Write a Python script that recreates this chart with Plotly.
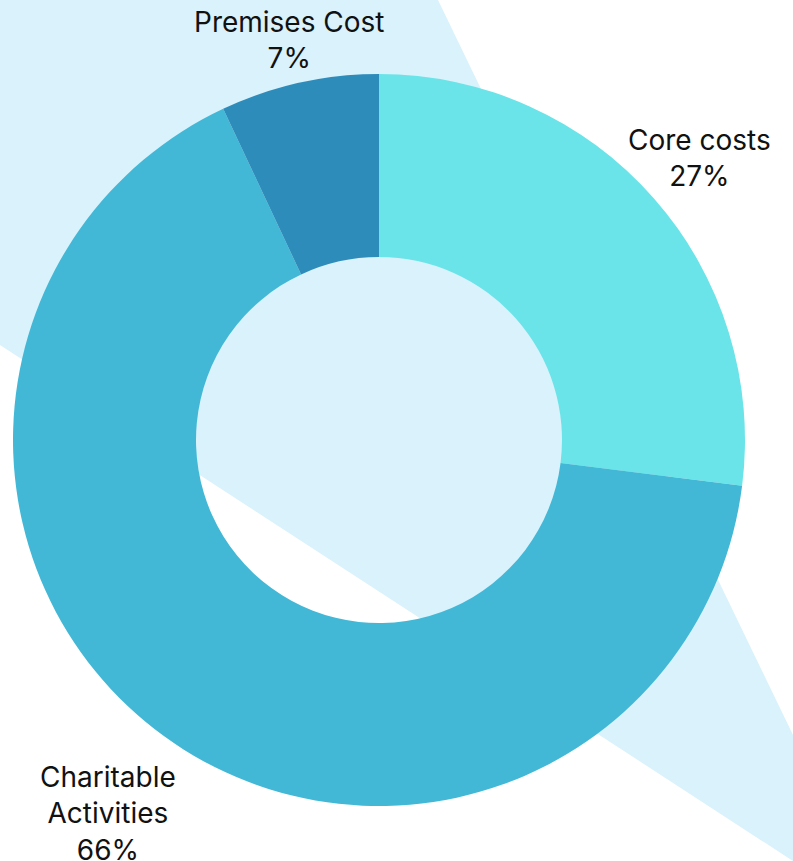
import math
import plotly.graph_objects as go

labels = ["Core costs", "Charitable<br>Activities", "Premises Cost"]
values = [27, 66, 7]
colors = ["#6AE4E8", "#42B8D6", "#2E8CBB"]

# style: how far out (in radii) each label's centre sits
label_offsets = [1.167, 1.26, 1.12]

W, H = 793, 861
CX, CY, R = 379, 440, 366  # pie centre and radius in px

fig = go.Figure(go.Pie(
    labels=labels,
    values=values,
    hole=0.5,
    sort=False,
    direction="clockwise",
    rotation=0,
    marker=dict(colors=colors, line=dict(width=0)),
    textinfo="none",
    domain=dict(x=[(CX - R) / W, (CX + R) / W],
                y=[(H - CY - R) / H, (H - CY + R) / H]),
    showlegend=False,
    hoverinfo="label+percent",
))

total = sum(values)
cum = 0
for lab, v, k in zip(labels, values, label_offsets):
    mid = (cum + v / 2) / total * 2 * math.pi
    cum += v
    px = CX + k * R * math.sin(mid)
    py = CY - k * R * math.cos(mid)
    fig.add_annotation(
        x=px / W, y=1 - py / H, xref="paper", yref="paper",
        text=f"{lab}<br>{round(v / total * 100)}%",
        showarrow=False, xanchor="center", yanchor="middle",
        align="center",
        font=dict(family="Inter", size=28, color="#111111"),
    )

fig.add_shape(
    type="path",
    xref="paper", yref="paper",
    path="M 0 1 L {a} 1 L 1 {b} L 1 0 L 0 {c} Z".format(
        a=438 / W, b=1 - 735 / H, c=1 - 345 / H),
    fillcolor="#D9F2FB",
    line=dict(width=0),
    layer="below",
)

fig.update_layout(
    width=W, height=H,
    margin=dict(l=0, r=0, t=0, b=0),
    paper_bgcolor="white",
    plot_bgcolor="white",
)

fig.write_html(
    "out.html",
    config={"displayModeBar": False},
    post_script="document.body.style.margin='0';document.body.style.padding='0';",
)
